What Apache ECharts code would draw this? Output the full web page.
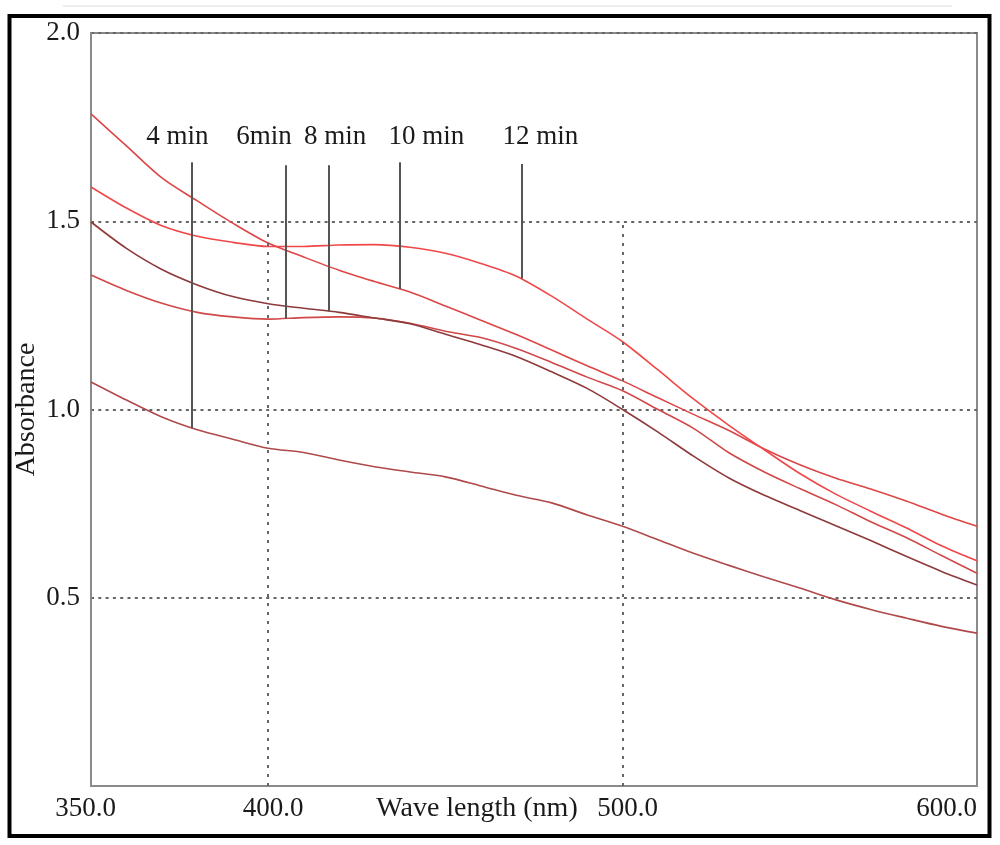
<!DOCTYPE html>
<html>
<head>
<meta charset="utf-8">
<script src="https://cdn.jsdelivr.net/npm/echarts@6/dist/echarts.min.js"></script>
<style>
  html, body { margin: 0; padding: 0; background: #fff; }
  #chart { width: 1000px; height: 845px; }
</style>
</head>
<body>
<div id="chart"></div>
<script>
// wavelength grid (nm) and absorbance
var wavelength = [350, 360, 370, 380, 390, 400, 410, 420, 430, 440, 450, 460, 470,
                  480, 490, 500, 510, 520, 530, 540, 550, 560, 570, 580, 590, 600];
var abs4  = [1.073, 1.025, 0.980, 0.946, 0.921, 0.897, 0.886, 0.866, 0.848, 0.834, 0.821, 0.797, 0.772,
             0.752, 0.720, 0.690, 0.654, 0.618, 0.586, 0.555, 0.526, 0.495, 0.469, 0.446, 0.424, 0.406];
var abs6  = [1.357, 1.316, 1.282, 1.258, 1.246, 1.240, 1.244, 1.246, 1.243, 1.229, 1.208, 1.191, 1.162,
             1.125, 1.086, 1.050, 1.000, 0.950, 0.885, 0.834, 0.790, 0.748, 0.702, 0.660, 0.612, 0.565];
var abs8  = [1.498, 1.428, 1.372, 1.331, 1.300, 1.281, 1.269, 1.258, 1.243, 1.228, 1.200, 1.172, 1.141,
             1.100, 1.056, 1.000, 0.940, 0.876, 0.818, 0.772, 0.732, 0.692, 0.652, 0.610, 0.570, 0.534];
var abs10 = [1.785, 1.700, 1.615, 1.554, 1.495, 1.442, 1.405, 1.370, 1.340, 1.312, 1.275, 1.237, 1.199,
             1.158, 1.116, 1.076, 1.031, 0.987, 0.944, 0.895, 0.853, 0.818, 0.789, 0.757, 0.722, 0.690];
var abs12 = [1.591, 1.535, 1.488, 1.460, 1.444, 1.433, 1.433, 1.437, 1.438, 1.431, 1.415, 1.388, 1.354,
             1.301, 1.240, 1.180, 1.105, 1.028, 0.958, 0.893, 0.830, 0.776, 0.730, 0.686, 0.638, 0.598];

var seriesNames = ['4 min', '6min', '8 min', '10 min', '12 min'];
var seriesData  = [abs4, abs6, abs8, abs10, abs12];
var lineColors  = ['#b04a4a', '#d04848', '#8e3a3a', '#dc4646', '#f04848'];

// pointer lines from the labels down to each curve (data units)
var pointerX   = [378.5, 405, 417, 437, 471.5];
var pointerTop = [1.657, 1.649, 1.649, 1.657, 1.652];
var pointerEnd = [0.950, 1.242, 1.261, 1.320, 1.348];
var labelX     = [374.4, 398.8, 418.9, 444.6, 476.8];
var labelY     = 1.724;

var xTickLabels = [350, 400, 500, 600];
var partialGridX = [400, 500];   // dotted verticals that stop at 1.5
var partialGridTop = 1.5;

var FONT = 'Liberation Serif, Times New Roman, serif';

var chart = echarts.init(document.getElementById('chart'), null, { renderer: 'canvas' });

function pairs(ys) {
  return wavelength.map(function (x, i) { return [x, ys[i]]; });
}

var series = seriesNames.map(function (name, i) {
  var s = {
    name: name,
    type: 'line',
    data: pairs(seriesData[i]),
    smooth: 0.3,
    symbol: 'none',
    lineStyle: { color: lineColors[i], width: 1.6 },
    z: 3,
    markLine: {
      silent: true,
      symbol: 'none',
      label: { show: false },
      lineStyle: { color: '#555', width: 2, type: 'solid' },
      data: [[{ coord: [pointerX[i], pointerTop[i]] }, { coord: [pointerX[i], pointerEnd[i]] }]]
    },
    markPoint: {
      silent: true,
      symbol: 'rect',
      symbolSize: 1,
      itemStyle: { color: 'rgba(0,0,0,0)' },
      label: {
        show: true, position: 'inside', formatter: name,
        color: '#1a1a1a', fontSize: 27, fontFamily: FONT
      },
      data: [{ coord: [labelX[i], labelY] }]
    }
  };
  if (i === 0) {
    partialGridX.forEach(function (gx) {
      s.markLine.data.push([
        { coord: [gx, 0], lineStyle: { color: '#666', width: 2, type: [3, 6] } },
        { coord: [gx, partialGridTop] }
      ]);
    });
  }
  return s;
});

var tickText = { color: '#1a1a1a', fontSize: 27, fontFamily: FONT };

chart.setOption({
  animation: false,
  backgroundColor: '#fff',
  textStyle: { fontFamily: FONT },
  grid: {
    left: 91, right: 23, top: 33, bottom: 59,
    containLabel: false, outerBoundsMode: 'none',
    show: true, borderColor: '#8a8a8a', borderWidth: 2
  },
  xAxis: {
    type: 'value', min: 350, max: 600, interval: 50,
    name: 'Wave length (nm)', nameLocation: 'middle', nameGap: 9,
    nameMoveOverlap: false,
    nameTextStyle: { color: '#1a1a1a', fontSize: 28, fontFamily: FONT, padding: [0, 114, 0, 0] },
    axisLine: { show: true, lineStyle: { color: '#8a8a8a', width: 2 } },
    axisTick: { show: false },
    splitLine: { show: false },
    axisLabel: {
      color: '#1a1a1a', fontSize: 27, fontFamily: FONT, margin: 9,
      alignMaxLabel: 'right',
      formatter: function (v) {
        if (xTickLabels.indexOf(v) < 0) return '';
        if (v === 350) return '{first|' + v.toFixed(1) + '}';
        if (v === 600) return v.toFixed(1);
        return '{mid|' + v.toFixed(1) + '}';
      },
      rich: {
        first: Object.assign({ padding: [0, 11, 0, 0] }, tickText),
        mid: Object.assign({ padding: [0, 0, 0, 10] }, tickText)
      }
    }
  },
  yAxis: {
    type: 'value', min: 0, max: 2, interval: 0.5,
    name: 'Absorbance', nameLocation: 'middle', nameRotate: 90, nameGap: 50,
    nameMoveOverlap: false,
    nameTextStyle: { color: '#1a1a1a', fontSize: 28, fontFamily: FONT },
    axisLine: { show: true, lineStyle: { color: '#8a8a8a', width: 2 } },
    axisTick: { show: false },
    splitLine: { show: true, lineStyle: { color: '#666', width: 2, type: [3, 4.3] } },
    axisLabel: {
      color: '#1a1a1a', fontSize: 27, fontFamily: FONT, margin: 11,
      showMinLabel: false,
      formatter: function (v) { return v.toFixed(1); }
    }
  },
  graphic: [
    {
      type: 'rect', silent: true, z: 0,
      shape: { x: 9.5, y: 16, width: 980, height: 820 },
      style: { fill: 'none', stroke: '#000', lineWidth: 4 }
    },
    {
      type: 'line', silent: true, z: 0,
      shape: { x1: 63, y1: 6, x2: 952, y2: 6 },
      style: { stroke: '#e8e8e8', lineWidth: 1.5 }
    }
  ],
  series: series
});
</script>
</body>
</html>
